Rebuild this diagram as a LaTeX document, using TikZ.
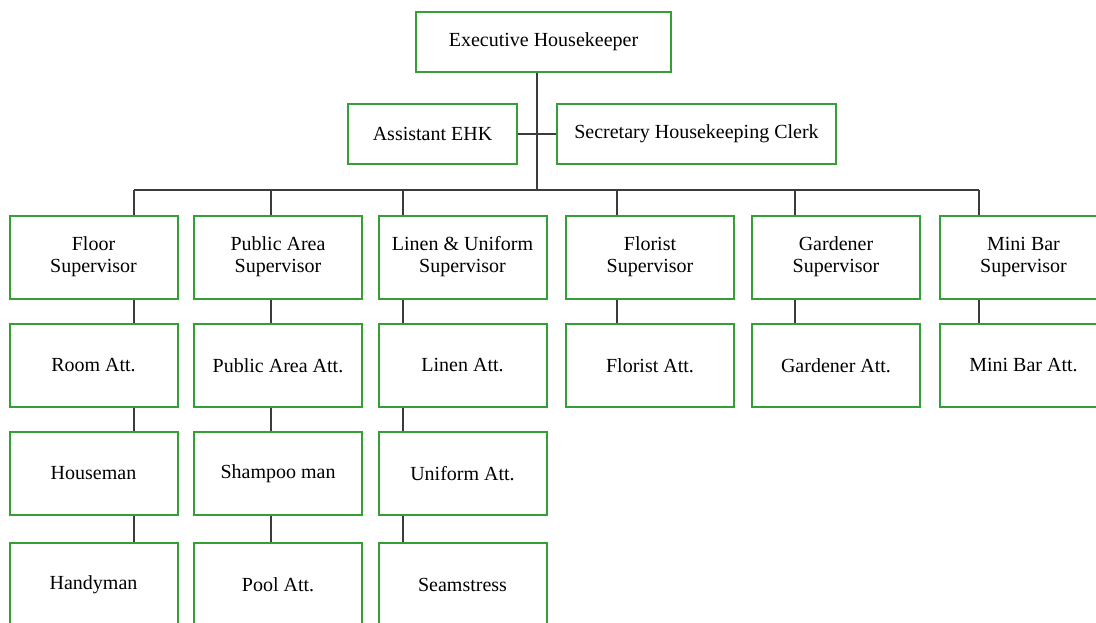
\documentclass[tikz,border=0pt]{standalone}
\usepackage{fontspec}
\setmainfont{Liberation Serif}
\usepackage{xcolor}
\usepackage{tikz}

\definecolor{boxgreen}{RGB}{52,160,52}
\definecolor{linkgray}{RGB}{60,60,60}

\begin{document}
\begin{tikzpicture}[x=1pt, y=-1pt,
	box/.style={draw=boxgreen, line width=2pt, fill=white, align=center,
		inner sep=0pt, minimum width=168pt, minimum height=83pt,
		font=\fontsize{20}{22}\selectfont},
	link/.style={draw=linkgray, line width=1.5pt}]
\clip (0,0) rectangle (1096,622);
\fill[white] (0,0) rectangle (1096,622);
% top of the chart
\node [box, minimum width=255pt, minimum height=60pt] (ehk) at (543.5,42) {Executive Housekeeper};
\node [box, minimum width=169pt, minimum height=60pt] (asst) at (432.5,134) {Assistant EHK};
\node [box, minimum width=279pt, minimum height=60pt] (secy) at (696.5,134) {Secretary Housekeeping Clerk};
% supervisors
\node [box] (floor) at (93.5,257) {Floor\\Supervisor};
\node [box] (pub) at (278,257) {Public Area\\Supervisor};
\node [box] (linen) at (462.5,257) {Linen \& Uniform\\Supervisor};
\node [box] (florist) at (650,257) {Florist\\Supervisor};
\node [box] (garden) at (836,257) {Gardener\\Supervisor};
\node [box] (minibar) at (1023.5,257) {Mini Bar\\Supervisor};
% attendants
\node [box] (room) at (93.5,365.5) {Room Att.};
\node [box] (pubatt) at (278,365.5) {Public Area Att.};
\node [box] (linatt) at (462.5,365.5) {Linen Att.};
\node [box] (floatt) at (650,365.5) {Florist Att.};
\node [box] (garatt) at (836,365.5) {Gardener Att.};
\node [box] (mbatt) at (1023.5,365.5) {Mini Bar Att.};
\node [box] (house) at (93.5,473.5) {Houseman};
\node [box] (shampoo) at (278,473.5) {Shampoo man};
\node [box] (uniatt) at (462.5,473.5) {Uniform Att.};
\node [box] (handy) at (93.5,584.5) {Handyman};
\node [box] (pool) at (278,584.5) {Pool Att.};
\node [box] (seam) at (462.5,584.5) {Seamstress};
% bus and drops
\coordinate (top) at (537,190);
\coordinate (d1) at (134,190);
\coordinate (d2) at (271,190);
\coordinate (d3) at (403,190);
\coordinate (d4) at (617,190);
\coordinate (d5) at (795,190);
\coordinate (d6) at (979,190);
\draw [link] (top |- ehk.south) -- (top);
\draw [link] (asst.east) -- (secy.west);
\draw [link] (d1) -- (d6);
\foreach \d/\a in {d1/floor, d2/pub, d3/linen, d4/florist, d5/garden, d6/minibar}
	\draw [link] (\d) -- (\d |- \a.north);
\foreach \d/\a/\b in {d1/floor/room, d1/room/house, d1/house/handy,
		d2/pub/pubatt, d2/pubatt/shampoo, d2/shampoo/pool,
		d3/linen/linatt, d3/linatt/uniatt, d3/uniatt/seam,
		d4/florist/floatt, d5/garden/garatt, d6/minibar/mbatt}
	\draw [link] (\d |- \a.south) -- (\d |- \b.north);
\end{tikzpicture}
\end{document}
